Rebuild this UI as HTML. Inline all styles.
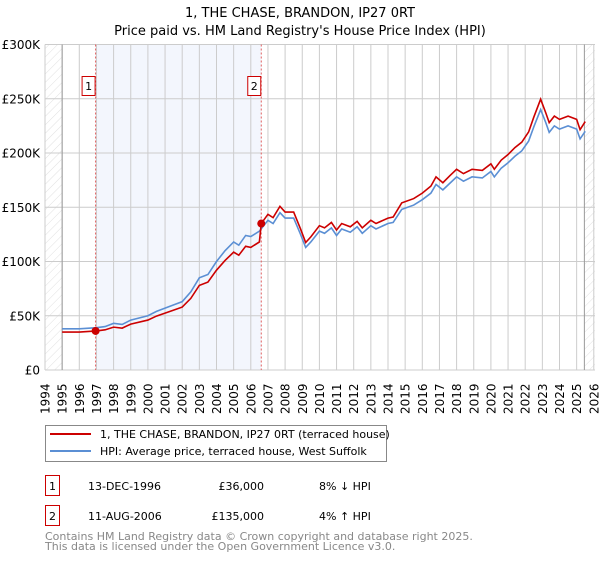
<!DOCTYPE html>
<html><head><meta charset="utf-8">
<style>
body{margin:0;background:#fff;font-family:"DejaVu Sans","Liberation Sans",sans-serif;}
svg text{font-family:"DejaVu Sans","Liberation Sans",sans-serif;}
</style></head>
<body>
<svg id="chart" width="600" height="560" xmlns="http://www.w3.org/2000/svg">
<defs>
<pattern id="hatch" patternUnits="userSpaceOnUse" width="6" height="6" patternTransform="rotate(45)">
<line x1="0" y1="0" x2="0" y2="6" stroke="#d8d8d8" stroke-width="0.8"/>
</pattern>
</defs>
<text x="300" y="17" text-anchor="middle" font-size="13">1, THE CHASE, BRANDON, IP27 0RT</text>
<text x="300" y="35" text-anchor="middle" font-size="13">Price paid vs. HM Land Registry's House Price Index (HPI)</text>
<g id="plot"></g>
<g>
<rect x="45.5" y="425.5" width="341" height="36" fill="#fff" stroke="#888"/>
<line x1="50" y1="434" x2="91" y2="434" stroke="#cc0000" stroke-width="2"/>
<text x="100" y="438" font-size="11">1, THE CHASE, BRANDON, IP27 0RT (terraced house)</text>
<line x1="50" y1="451" x2="91" y2="451" stroke="#5b8fd4" stroke-width="2"/>
<text x="100" y="455" font-size="11">HPI: Average price, terraced house, West Suffolk</text>
</g>
<g font-size="11">
<rect x="45.5" y="475.5" width="14" height="20" fill="#fff" stroke="#cc0000"/>
<text x="52.5" y="490" text-anchor="middle">1</text>
<text x="88" y="490">13-DEC-1996</text>
<text x="264" y="490" text-anchor="end">£36,000</text>
<text x="319" y="490">8% ↓ HPI</text>
<rect x="45.5" y="505.5" width="14" height="20" fill="#fff" stroke="#cc0000"/>
<text x="52.5" y="520" text-anchor="middle">2</text>
<text x="88" y="520">11-AUG-2006</text>
<text x="264" y="520" text-anchor="end">£135,000</text>
<text x="319" y="520">4% ↑ HPI</text>
</g>
<text x="45" y="540" font-size="11" fill="#888">Contains HM Land Registry data © Crown copyright and database right 2025.</text>
<text x="45" y="550" font-size="11" fill="#888">This data is licensed under the Open Government Licence v3.0.</text>
</svg>
<script>
const yTicks=[0,50,100,150,200,250,300];
const yTickLabels=["£0","£50K","£100K","£150K","£200K","£250K","£300K"];
const years=[1994,1995,1996,1997,1998,1999,2000,2001,2002,2003,2004,2005,2006,2007,2008,2009,2010,2011,2012,2013,2014,2015,2016,2017,2018,2019,2020,2021,2022,2023,2024,2025,2026];
const hpiDates=[1995,1996,1997,1997.5,1998,1998.5,1999,2000,2000.5,2001,2001.5,2002,2002.5,2003,2003.5,2004,2004.5,2005,2005.3,2005.7,2006,2006.5,2007,2007.3,2007.7,2008,2008.5,2008.9,2009.2,2009.5,2010,2010.3,2010.7,2011,2011.3,2011.8,2012.2,2012.5,2013,2013.3,2014,2014.3,2014.8,2015.5,2016,2016.5,2016.8,2017.2,2017.6,2018,2018.4,2018.9,2019.5,2020,2020.2,2020.6,2021,2021.4,2021.8,2022.2,2022.5,2022.9,2023.2,2023.4,2023.7,2024,2024.5,2025,2025.2,2025.5];
const hpiValues=[38,38,39,40,43,42,46,50,54,57,60,63,72,85,88,100,110,118,115,124,123,128,138,135,145,140,140,125,113,118,128,126,131,124,130,127,132,126,133,130,135,136,148,152,157,163,171,166,172,178,174,178,177,183,178,186,191,197,202,211,224,240,228,219,225,222,225,222,213,220];
const priceDates=[1995,1996,1997,1997.5,1998,1998.5,1999,2000,2000.5,2001,2001.5,2002,2002.5,2003,2003.5,2004,2004.5,2005,2005.3,2005.7,2006,2006.5,2006.61,2007,2007.3,2007.7,2008,2008.5,2008.9,2009.2,2009.5,2010,2010.3,2010.7,2011,2011.3,2011.8,2012.2,2012.5,2013,2013.3,2014,2014.3,2014.8,2015.5,2016,2016.5,2016.8,2017.2,2017.6,2018,2018.4,2018.9,2019.5,2020,2020.2,2020.6,2021,2021.4,2021.8,2022.2,2022.5,2022.9,2023.2,2023.4,2023.7,2024,2024.5,2025,2025.2,2025.5];
const priceValues=[35,35,36,37,39.5,38.6,42.3,46,49.7,52.4,55.2,58,66,78,81,92,101,108.6,105.8,114,113,118,135,143.5,140.4,150.8,145.6,145.6,130,117.5,122.7,133,131,136,129,135,132,137,131,138,135,140,141,154,158,163,169.5,178,172.6,179,185,181,185,184,190,185,193.4,198.6,205,210,219.4,233,249.6,237,228,234,231,234,231,221.5,229];
const saleDates=[1996.95,2006.61];
const salePrices=[36,135];
const saleLabels=["1","2"];

const NS="http://www.w3.org/2000/svg";
const L=45,R=595,T=44.5,B=370;
const X0=1994,PX=17.15;
function xs(d){return L+(d-X0)*PX;}
function ys(v){return B-v*(B-T)/300;}
const g=document.getElementById('plot');
function mk(tag,attrs,parent){const e=document.createElementNS(NS,tag);for(const k in attrs)e.setAttribute(k,attrs[k]);(parent||g).appendChild(e);return e;}

let sh=mk('rect',{x:xs(saleDates[0]),y:T,width:xs(saleDates[1])-xs(saleDates[0]),height:B-T,fill:'#f3f6fd'});


let h1=mk('rect',{x:L,y:T,width:xs(1995)-L,height:B-T,fill:'url(#hatch)'});


let h2=mk('rect',{x:xs(2025.45),y:T,width:R-xs(2025.45),height:B-T,fill:'url(#hatch)'});


years.forEach(yr=>{
  const x=xs(yr);
  let gl=mk('line',{x1:x,y1:T,x2:x,y2:B,stroke:'#ccc','stroke-width':1});
  
  
  let t=mk('text',{transform:`translate(${x+4.5},${B+44}) rotate(-90)`,'font-size':12});
  t.textContent=yr;
  
  
});
yTicks.forEach((v,i)=>{
  const y=ys(v);
  let gl=mk('line',{x1:L,y1:y,x2:R,y2:y,stroke:'#ccc','stroke-width':1});
  
  
  let t=mk('text',{x:40,y:y+4.5,'text-anchor':'end','font-size':12});
  t.textContent=yTickLabels[i];
  
  
});
let ax1=mk('line',{x1:xs(1995),y1:T,x2:xs(1995),y2:B,stroke:'#999','stroke-width':1});


let ax2=mk('line',{x1:xs(2025.45),y1:T,x2:xs(2025.45),y2:B,stroke:'#999','stroke-width':1});


saleDates.forEach((d,i)=>{
  let vl=mk('line',{x1:xs(d),y1:T,x2:xs(d),y2:B,stroke:'#e06060','stroke-width':1,'stroke-dasharray':'2,2'});
  
  
  let bx=mk('rect',{x:xs(d)-13.5,y:76.5,width:13,height:19,fill:'#fff',stroke:'#cc0000'});
  
  
  let bt=mk('text',{x:xs(d)-7,y:90,'text-anchor':'middle','font-size':11});
  bt.textContent=saleLabels[i];
  
  
});
let hp=mk('polyline',{points:hpiDates.map((d,i)=>xs(d)+','+ys(hpiValues[i])).join(' '),fill:'none',stroke:'#5b8fd4','stroke-width':1.6});


let pp=mk('polyline',{points:priceDates.map((d,i)=>xs(d)+','+ys(priceValues[i])).join(' '),fill:'none',stroke:'#cc0000','stroke-width':1.6});


saleDates.forEach((d,i)=>{
  let c=mk('circle',{cx:xs(d),cy:ys(salePrices[i]),r:4,fill:'#cc0000'});
  
  
});
</script>
</body></html>
